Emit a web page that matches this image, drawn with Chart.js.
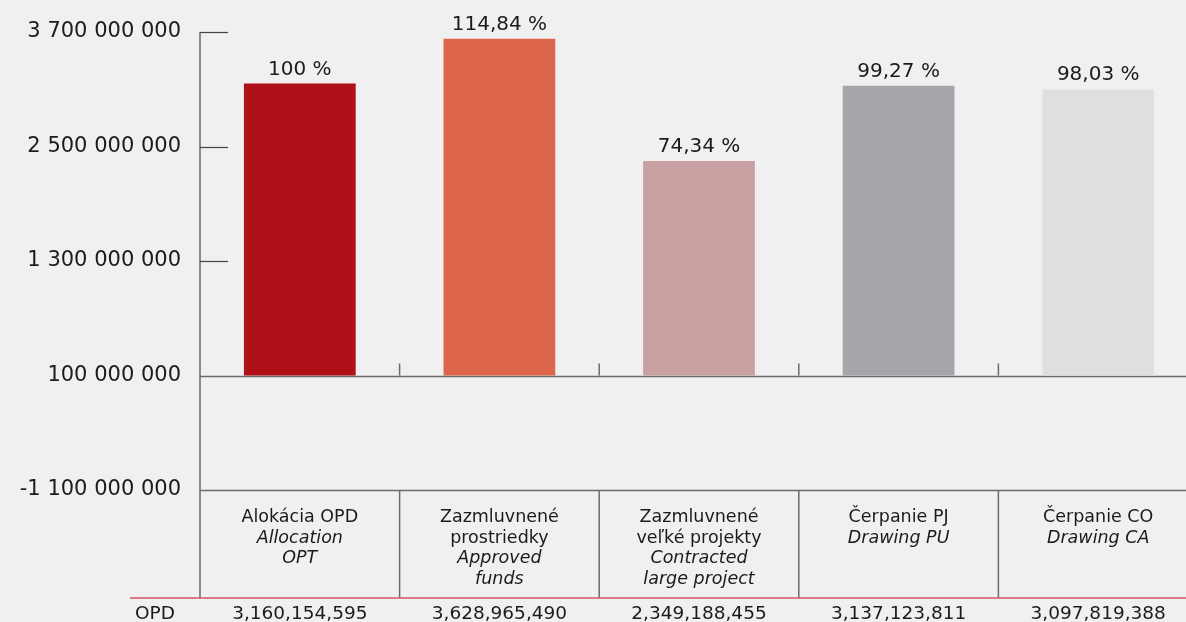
<!DOCTYPE html>
<html>
<head>
<meta charset="utf-8">
<script src="https://cdn.jsdelivr.net/npm/chart.js@4.4.1/dist/chart.umd.min.js"></script>
<style>
  html, body { margin: 0; padding: 0; background: #eff0ef; overflow: hidden; }
  #wrap { position: absolute; left: 0; top: 0; width: 1198px; height: 622px; }
</style>
</head>
<body>
<div id="wrap"><canvas id="opd-chart"></canvas></div>
<script>
// table header lines: Slovak first, English (italic) after
const categoriesSk = [['Alokácia OPD'], ['Zazmluvnené', 'prostriedky'], ['Zazmluvnené', 'veľké projekty'], ['Čerpanie PJ'], ['Čerpanie CO']];
const categoriesEn = [['Allocation', 'OPT'], ['Approved', 'funds'], ['Contracted', 'large project'], ['Drawing PU'], ['Drawing CA']];
const opdValues = [3160154595, 3628965490, 2349188455, 3137123811, 3097819388];
const percentLabels = ['100 %', '114,84 %', '74,34 %', '99,27 %', '98,03 %'];
const barColors = ['#af1118', '#dd654c', '#c8a0a2', '#a6a7aa', '#dedfe0'];
const yTickValues = [3700000000, 2500000000, 1300000000, 100000000, -1100000000];
const yTickLabels = ['3 700 000 000', '2 500 000 000', '1 300 000 000', '100 000 000', '-1 100 000 000'];
const barBase = 100000000;
const rowLabel = 'OPD';

const FONT = '"DejaVu Sans", Verdana, sans-serif';
const TEXT = '#1b1b1b';
const LINE = '#6b6b6b';

function line(ctx, x1, y1, x2, y2) {
  ctx.beginPath();
  ctx.moveTo(x1, y1);
  ctx.lineTo(x2, y2);
  ctx.stroke();
}

// axis lines, category dividers and the data table under the plot
const tablePlugin = {
  id: 'tablePlugin',
  beforeDatasetsDraw(chart) {
    const { ctx, chartArea, scales: { x, y } } = chart;
    const right = chart.width;
    const axisX = chartArea.left;
    const tableBottom = chartArea.bottom + 108;
    const baseY = y.getPixelForValue(barBase);

    ctx.save();
    ctx.strokeStyle = LINE;
    ctx.lineWidth = 1.5;
    line(ctx, axisX, chartArea.top, axisX, tableBottom);

    yTickValues.forEach(v => {
      const py = Math.round(y.getPixelForValue(v)) + 0.5;
      if (v > barBase) {
        ctx.lineWidth = 1.2;
        ctx.strokeStyle = '#444';
        line(ctx, axisX, py, axisX + 28, py);
      } else {
        ctx.lineWidth = 1.5;
        ctx.strokeStyle = LINE;
        line(ctx, axisX, py, right, py);
      }
    });

    ctx.lineWidth = 1.5;
    ctx.strokeStyle = LINE;
    for (let i = 1; i < opdValues.length; i++) {
      const bx = (x.getPixelForValue(i - 1) + x.getPixelForValue(i)) / 2;
      line(ctx, bx, baseY - 12, bx, baseY);
      line(ctx, bx, chartArea.bottom, bx, tableBottom);
    }

    ctx.strokeStyle = '#d9535c';
    ctx.lineWidth = 1.5;
    line(ctx, 130, tableBottom, right, tableBottom);
    ctx.restore();
  },
  afterDatasetsDraw(chart) {
    const { ctx, chartArea, scales: { x } } = chart;
    const meta = chart.getDatasetMeta(0);
    const tableBottom = chartArea.bottom + 108;

    ctx.save();
    ctx.fillStyle = TEXT;
    ctx.textAlign = 'center';
    ctx.textBaseline = 'alphabetic';

    // percentage labels over the bars
    ctx.font = '20px ' + FONT;
    meta.data.forEach((bar, i) => {
      ctx.fillText(percentLabels[i], bar.x, bar.y - 9);
    });

    // category header cells
    categoriesSk.forEach((sk, i) => {
      const cx = x.getPixelForValue(i);
      let ty = chartArea.bottom + 32;
      ctx.font = '17.5px ' + FONT;
      sk.forEach(t => { ctx.fillText(t, cx, ty); ty += 20.5; });
      ctx.font = 'italic 17.5px ' + FONT;
      categoriesEn[i].forEach(t => { ctx.fillText(t, cx, ty); ty += 20.5; });
    });

    // OPD row
    ctx.font = '18.5px ' + FONT;
    opdValues.forEach((v, i) => {
      ctx.fillText(v.toLocaleString('en-US'), x.getPixelForValue(i), tableBottom + 21);
    });
    ctx.textAlign = 'left';
    ctx.fillText(rowLabel, 135, tableBottom + 21);
    ctx.restore();
  }
};

new Chart(document.getElementById('opd-chart'), {
  type: 'bar',
  data: {
    labels: categoriesSk.map(l => l.join(' ')),
    datasets: [{
      data: opdValues,
      base: barBase,
      backgroundColor: barColors,
      borderWidth: 0,
      categoryPercentage: 1,
      barPercentage: 0.56
    }]
  },
  options: {
    responsive: true,
    maintainAspectRatio: false,
    devicePixelRatio: 1,
    animation: false,
    layout: { padding: { top: 32, left: 0, right: 0, bottom: 0 } },
    plugins: {
      legend: { display: false },
      tooltip: { enabled: false }
    },
    scales: {
      x: {
        grid: { display: false, drawTicks: false },
        border: { display: false },
        ticks: { display: false },
        afterFit: s => { s.height = 132; }
      },
      y: {
        min: -1100000000,
        max: 3700000000,
        grid: { display: false, drawTicks: false },
        border: { display: false },
        afterBuildTicks: s => { s.ticks = yTickValues.map(v => ({ value: v })); },
        afterFit: s => { s.width = 200; },
        ticks: {
          padding: 19,
          color: TEXT,
          font: { family: FONT, size: 21 },
          callback: v => yTickLabels[yTickValues.indexOf(v)]
        }
      }
    }
  },
  plugins: [tablePlugin]
});
</script>
</body>
</html>
